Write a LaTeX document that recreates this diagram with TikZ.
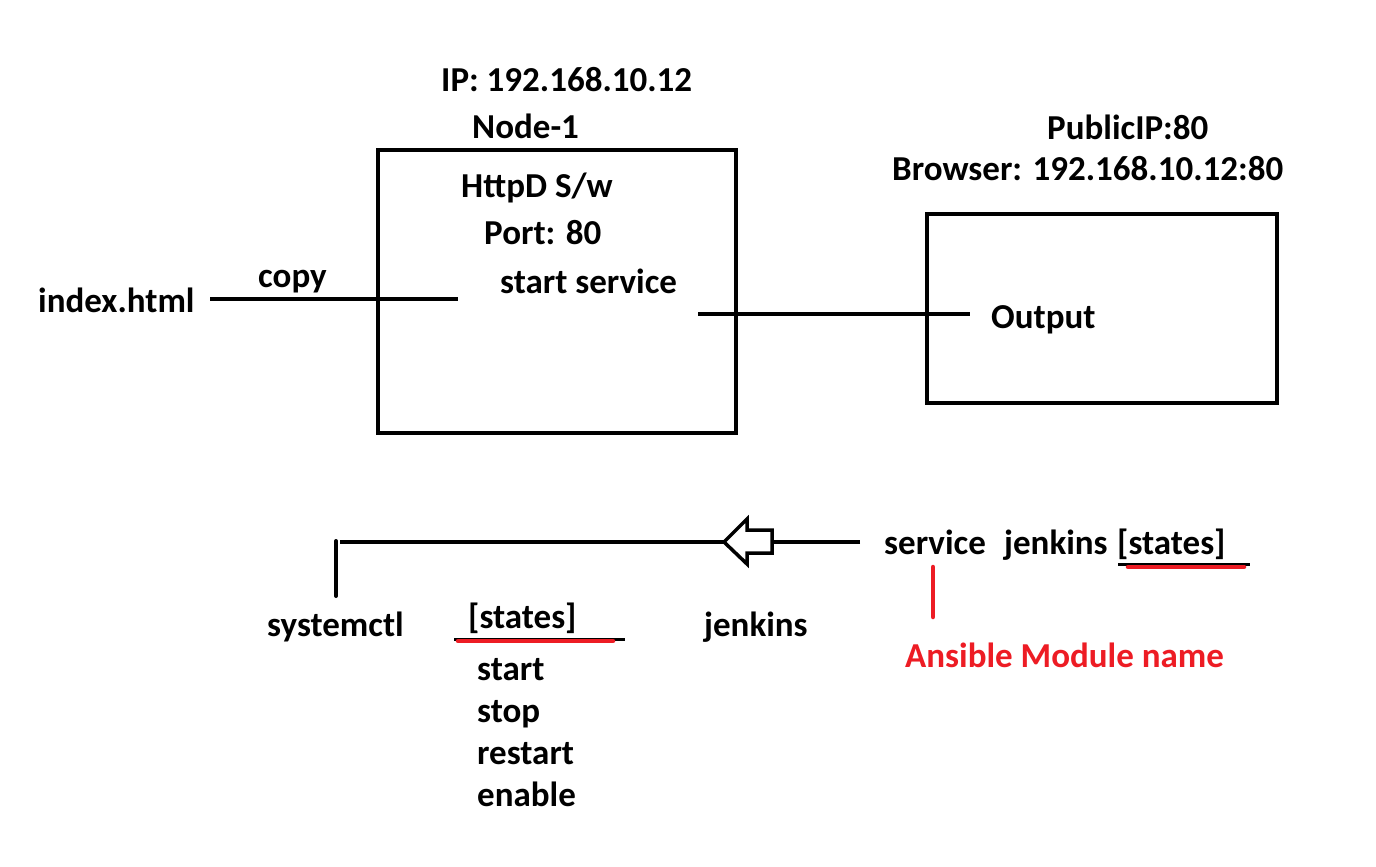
\documentclass[tikz,border=0pt]{standalone}
\usepackage{fontspec}
\setmainfont{Carlito}
\definecolor{annred}{HTML}{ED1C24}
\begin{document}
\begin{tikzpicture}[x=1pt,y=-1pt,
  txt/.style={inner sep=0pt,font=\bfseries\fontsize{35}{40}\selectfont,anchor=base west},
  redtxt/.style={txt,text=annred},
  boxline/.style={line width=4pt},
  conn/.style={line width=4pt},
  redline/.style={line width=4.5pt,draw=annred,line cap=round}]
\useasboundingbox[fill=white] (0,0) rectangle (1376,867);
% boxes
\draw[boxline] (378,150) rectangle (736,433);
\node[inner sep=0pt, minimum width=358pt, minimum height=283pt, anchor=north west] (node1) at (378,150) {};
\draw[boxline] (927,214) rectangle (1277,403);
\node[inner sep=0pt, minimum width=350pt, minimum height=189pt, anchor=north west] (browser) at (927,214) {};
% texts top
\node[txt] (ip) at (441,92) {IP: 192.168.10.12};
\node[txt] (n1) at (472,138) {Node-1};
\node[txt] (httpd) at (461,197) {HttpD S/w};
\node[txt] (port) at (484,244) {Port: 80};
\node[txt] (start) at (500,293) {start service};
\node[txt] (index) at (38,312) {index.html};
\node[txt] (copy) at (258,287) {copy};
\node[txt] (pub) at (1047,139) {PublicIP:80};
\node[txt] (brow) at (892,180) {Browser: 192.168.10.12:80};
\node[txt] (out) at (991,328) {Output};
% connectors top
\coordinate (c1) at (210,299);
\coordinate (c2) at (458,299);
\draw[conn] (c1) -- (c2);
\coordinate (c3) at (698,314);
\coordinate (c4) at (970,314);
\draw[conn] (c3) -- (c4);
% bottom texts
\node[txt] (service) at (884,554) {service};
\node[txt] (jen1) at (1004,554) {jenkins};
\node[txt] (st1) at (1117,554) {[states]};
\node[redtxt] (ans) at (905,667) {Ansible Module name};
\node[txt] (sysctl) at (267,636) {systemctl};
\node[txt] (st2) at (468,628) {[states]};
\node[txt] (jen2) at (704,636) {jenkins};
\node[txt] (s1) at (477,680) {start};
\node[txt] (s2) at (477,722) {stop};
\node[txt] (s3) at (477,764) {restart};
\node[txt] (s4) at (477,806) {enable};
% bottom connectors
\coordinate (h1) at (860,542);
\coordinate (h2) at (772,542);
\coordinate (h3) at (340,542);
\coordinate (h4) at (724,542);
\draw[conn] (h1) -- (h2);
\draw[conn] (h4) -- (h3);
\draw[line width=3.5pt,line join=miter] (h2) -- ++(0,-12) -- ++(-25,0) -- ++(0,-11) -- (h4) -- ++(23,22) -- ++(0,-11) -- ++(25,0) -- cycle;
\coordinate (v1) at (336,541);
\coordinate (v2) at (336,596);
\draw[conn,line cap=round] (v1) -- (v2);
% underlines
\coordinate (u1) at (1118,564);
\coordinate (u2) at (1250,564);
\draw[line width=3pt] (u1) -- (u2);
\draw[redline] (1128,567) -- (1244,567);
\draw[line width=3pt] (454,639) -- (625,639);
\draw[redline] (458,641) -- (613,641);
\draw[redline] (933,567) -- (933,617);
\end{tikzpicture}
\end{document}
